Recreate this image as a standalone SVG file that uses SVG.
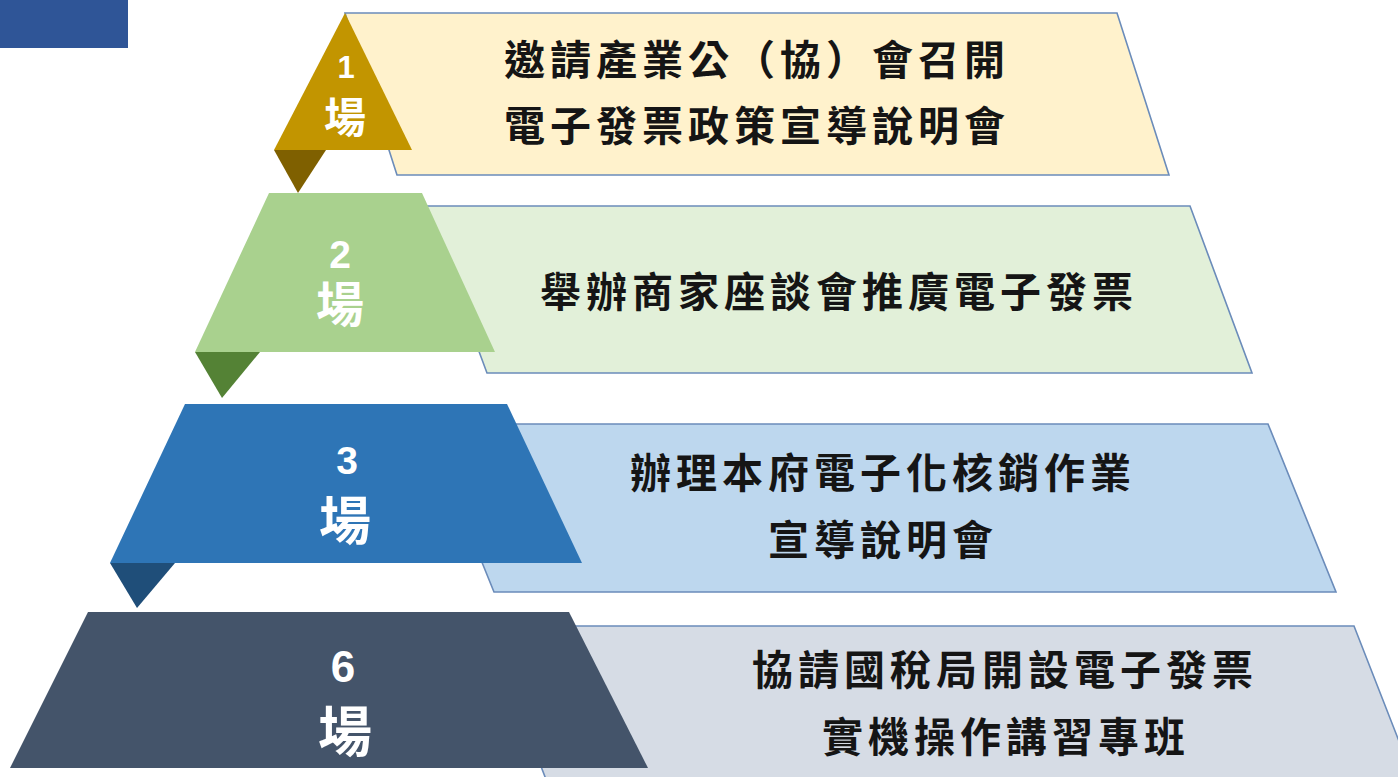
<svg xmlns="http://www.w3.org/2000/svg" width="1398" height="777" viewBox="0 0 1398 777">
<style>
.box{stroke:#6B8CBA;stroke-width:1.6;}
.t{font-family:"Noto Sans CJK TC","Noto Sans CJK SC",sans-serif;font-weight:700;font-size:41px;fill:#151515;text-anchor:middle;letter-spacing:5px;}
.n{font-family:"Liberation Sans",Arial,sans-serif;font-weight:700;fill:#FFFFFF;text-anchor:middle;}
.c{font-family:"Noto Sans CJK TC","Noto Sans CJK SC",sans-serif;font-weight:700;fill:#FFFFFF;text-anchor:middle;}
</style>
<rect width="1398" height="777" fill="#FFFFFF"/>
<rect id="corner" x="0" y="0" width="128" height="48" fill="#2F5597"/>
<g id="connectors"/>
<g id="box1">
<polygon class="box" points="345,13 1117,13 1169,175 397,175" fill="#FFF2CC"/>
<text class="t" x="757" y="75">邀請產業公（協）會召開</text>
<text class="t" x="757" y="141">電子發票政策宣導說明會</text>
</g>
<g id="box2">
<polygon class="box" points="425,206 1190,206 1252,373 487,373" fill="#E2F0D9"/>
<text class="t" x="839" y="307">舉辦商家座談會推廣電子發票</text>
</g>
<g id="box3">
<polygon class="box" points="426,424 1268,424 1336,592 494,592" fill="#BDD7EE"/>
<text class="t" x="883" y="488">辦理本府電子化核銷作業</text>
<text class="t" x="883" y="555">宣導說明會</text>
</g>
<g id="box4">
<polygon class="box" points="487,626 1354,626 1420,795 552,795" fill="#D6DCE5"/>
<text class="t" x="1005" y="685">協請國稅局開設電子發票</text>
<text class="t" x="1006" y="752">實機操作講習專班</text>
</g>
<g id="tier1">
<polygon points="274,150 326,150 298,193" fill="#7F6000"/>
<polygon points="345,13 412,150 274,150" fill="#C29500"/>
<text class="n" x="346" y="78" font-size="31">1</text>
<text class="c" x="345" y="133" font-size="42">場</text>
</g>
<g id="tier2">
<polygon points="195,352 260,352 222,398" fill="#548235"/>
<polygon points="269,193 422,193 495,352 195,352" fill="#A9D18E"/>
<text class="n" x="340" y="268" font-size="39">2</text>
<text class="c" x="340" y="322" font-size="48">場</text>
</g>
<g id="tier3">
<polygon points="110,563 175,563 137,608" fill="#1F4E79"/>
<polygon points="185,404 507,404 582,563 110,563" fill="#2E75B6"/>
<text class="n" x="347" y="474" font-size="39">3</text>
<text class="c" x="345" y="540" font-size="52">場</text>
</g>
<g id="tier4">
<polygon points="88,612 569,612 648,768 10,768" fill="#44546A"/>
<text class="n" x="343" y="682" font-size="44">6</text>
<text class="c" x="345" y="752" font-size="54">場</text>
</g>
</svg>
